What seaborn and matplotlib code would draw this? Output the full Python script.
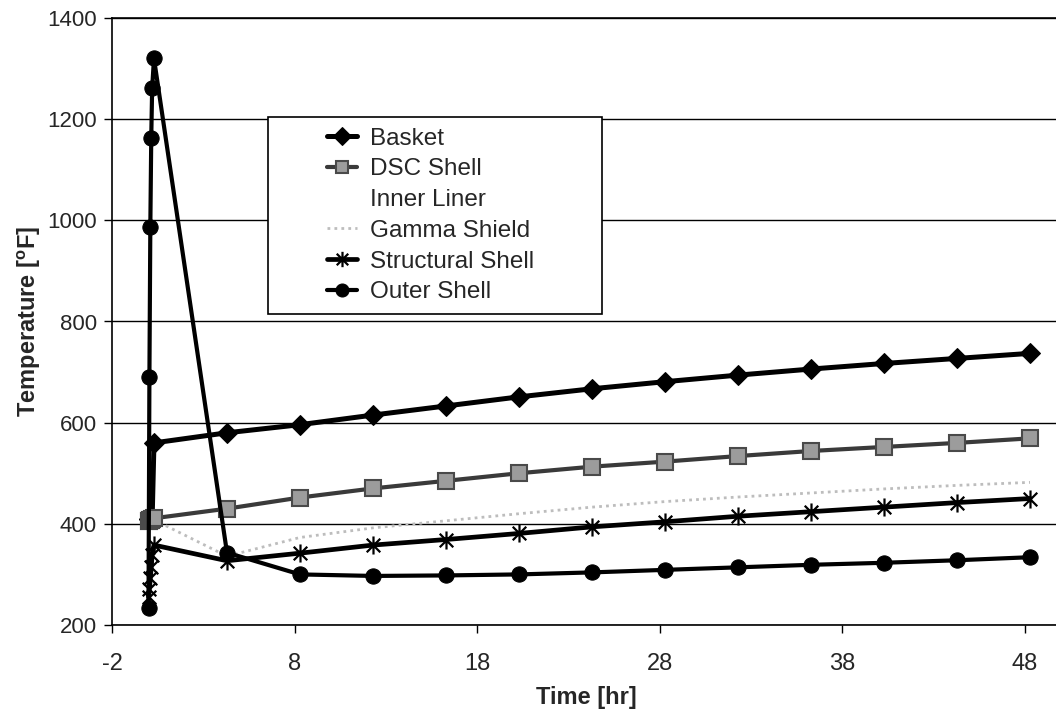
import numpy as np
import pandas as pd
import matplotlib
matplotlib.use("Agg")
import matplotlib.pyplot as plt
from matplotlib.path import Path
from matplotlib.patches import Rectangle
import seaborn as sns

# ---------------- data ----------------
times = [0.0, 0.05, 0.1, 0.15, 0.2, 0.3, 4.3, 8.3, 12.3, 16.3, 20.3, 24.3,
         28.3, 32.3, 36.3, 40.3, 44.3, 48.3]
basket = [410, 410, 410, 410, 410, 560, 580, 596, 615, 633, 651, 667,
          681, 694, 706, 717, 727, 737]
dsc_shell = [405, 406, 407, 408, 409, 411, 430, 452, 470, 485, 500, 513,
             523, 534, 544, 552, 560, 569]
inner_liner = [402, 403, 404, 405, 406, 408, 385, 410, 428, 443, 457, 469,
               480, 490, 499, 507, 515, 522]
gamma_shield = [398, 400, 402, 404, 406, 408, 336, 373, 392, 406, 420, 433,
                444, 453, 461, 469, 476, 482]
structural_shell = [255, 272, 293, 315, 338, 358, 327, 342, 358, 369, 381, 394,
                    404, 415, 424, 433, 442, 450]
outer_shell = [234, 690, 987, 1162, 1261, 1320, 343, 300, 297, 298, 300, 304,
               309, 314, 319, 323, 328, 334]

series_names = ["Basket", "DSC Shell", "Inner Liner", "Gamma Shield",
                "Structural Shell", "Outer Shell"]
x_ticks = [-2, 8, 18, 28, 38, 48]
y_ticks = [200, 400, 600, 800, 1000, 1200, 1400]

# ---------------- style ----------------
sns.set_style("white")
plt.rcParams["font.family"] = ["Liberation Sans", "DejaVu Sans"]
plt.rcParams["mathtext.fontset"] = "custom"
plt.rcParams["mathtext.rm"] = "Liberation Sans"
plt.rcParams["mathtext.bf"] = "Liberation Sans:bold"

W, H = 1056, 717
fig = plt.figure(figsize=(W / 100, H / 100), dpi=100)
# plot area (right end runs past the scanned edge)
left_px, right_px, top_px, bot_px = 112, 1061, 18, 625
ax = fig.add_axes([left_px / W, (H - bot_px) / H,
                   (right_px - left_px) / W, (bot_px - top_px) / H])

# asterisk marker (vertical bar + X)
ast = Path([(0, -1), (0, 1), (-0.75, -0.75), (0.75, 0.75),
            (-0.75, 0.75), (0.75, -0.75)],
           [Path.MOVETO, Path.LINETO] * 3)

common = dict(ax=ax, estimator=None, sort=False)

sns.lineplot(x=times, y=inner_liner, color="white", linestyle="None",
             label="Inner Liner", zorder=1, **common)
sns.lineplot(x=times, y=gamma_shield, color="#bdbdbd", linewidth=2.0,
             linestyle=(0, (1, 1.5)), label="Gamma Shield", zorder=2, **common)
sns.lineplot(x=times, y=basket, color="black", linewidth=3.6, marker="D",
             markersize=10.5, markeredgecolor="black", markerfacecolor="black",
             label="Basket", zorder=3, **common)
sns.lineplot(x=times, y=dsc_shell, color="#3a3a3a", linewidth=3.0, marker="s",
             markersize=11, markerfacecolor="#9c9c9c",
             markeredgecolor="#4a4a4a", markeredgewidth=1.5,
             label="DSC Shell", zorder=4, **common)
sns.lineplot(x=times, y=structural_shell, color="black", linewidth=3.4,
             marker=ast, markersize=13, markeredgecolor="black",
             markeredgewidth=1.6, label="Structural Shell", zorder=5, **common)
sns.lineplot(x=times, y=outer_shell, color="black", linewidth=3.0, marker="o",
             markersize=11, markeredgecolor="black", markerfacecolor="black",
             label="Outer Shell", zorder=6, **common)

handles, labels = ax.get_legend_handles_labels()
hmap = dict(zip(labels, handles))
if ax.get_legend() is not None:
    ax.get_legend().remove()

# axes
ax.set_xlim(-2, 50)
ax.set_ylim(200, 1400)
ax.set_xticks(x_ticks)
ax.set_yticks(y_ticks)
ax.set_xticklabels([str(v) for v in x_ticks])
ax.set_yticklabels([str(v) for v in y_ticks])
ax.tick_params(axis="both", direction="out", length=6, width=1,
               color="black", labelsize=16, bottom=True, left=True)
ax.tick_params(axis="x", pad=14, labelsize=17)
ax.tick_params(axis="y", pad=5)
ax.grid(axis="y", color="black", linewidth=1.0)
ax.grid(axis="x", visible=False)
for s in ["left", "bottom", "top"]:
    ax.spines[s].set_visible(True)
    ax.spines[s].set_color("black")
    ax.spines[s].set_linewidth(1.2)
ax.spines["right"].set_visible(False)

ax.set_xlabel("Time [hr]", fontsize=17, fontweight="bold", labelpad=8)
ax.set_ylabel(r"Temperature [$\mathbf{^o}$F]", fontsize=17,
              fontweight="bold", labelpad=3)

# legend (box drawn separately to match the wide Excel frame)
fig.patches.append(Rectangle((268 / W, (H - 314) / H), 334 / W, 197 / H,
                             transform=fig.transFigure, facecolor="white",
                             edgecolor="black", linewidth=1.2, zorder=10))
leg = fig.legend([hmap[n] for n in series_names], series_names,
                 loc="upper left", bbox_to_anchor=(327 / W, (H - 127.5) / H),
                 frameon=False, fontsize=17.5, handlelength=1.23,
                 handletextpad=0.53, labelspacing=0.36, borderpad=0,
                 borderaxespad=0, markerscale=0.85)
leg.set_zorder(11)

fig.savefig("out.png", dpi=100)
